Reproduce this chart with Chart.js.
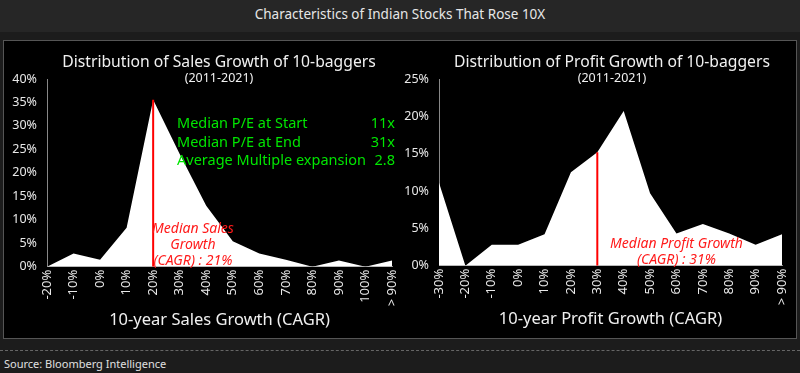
<!DOCTYPE html>
<html>
<head>
<meta charset="utf-8">
<script src="https://cdn.jsdelivr.net/npm/chart.js@4"></script>
<style>
    html, body { margin: 0; padding: 0; }
    body {
        width: 800px;
        height: 373px;
        background: #1c1c1c;
        position: relative;
        overflow: hidden;
        font-family: "Noto Sans", sans-serif;
    }
    .header {
        position: absolute; left: 0; top: 0; width: 800px; height: 32px;
        background: #262626; color: #e6e6e6; font-size: 13.5px;
        text-align: center; line-height: 28px;
    }
    .panel {
        position: absolute; left: 3px; top: 40px; width: 792px; height: 297px;
        background: #000; border: 1px solid #555;
    }
    .source-line {
        position: absolute; left: 0; top: 350px; width: 800px;
        border-top: 1px dashed #666;
    }
    .source {
        position: absolute; left: 4px; top: 356px; font-size: 11px; color: #e0e0e0;
    }
    canvas { position: absolute; }
    #salesChart { left: 4px; top: 41px; }
    #profitChart { left: 400px; top: 41px; }
</style>
</head>
<body>
<div class="header">Characteristics of Indian Stocks That Rose 10X</div>
<div class="panel"></div>
<canvas id="salesChart" width="395" height="296"></canvas>
<canvas id="profitChart" width="395" height="296"></canvas>
<div class="source-line"></div>
<div class="source">Source: Bloomberg Intelligence</div>

<script>
// Sales growth distribution (share of 10-baggers, %)
const salesLabels = ['-20%', '-10%', '0%', '10%', '20%', '30%', '40%', '50%', '60%', '70%', '80%', '90%', '100%', '> 90%'];
const salesValues = [0, 2.8, 1.5, 8.3, 35.6, 24, 13, 5.4, 2.8, 1.5, 0, 1.3, 0, 1.3];
const salesTicks = [0, 5, 10, 15, 20, 25, 30, 35, 40];
const salesMedianLabel = '20%';

// Profit growth distribution (share of 10-baggers, %)
const profitLabels = ['-30%', '-20%', '-10%', '0%', '10%', '20%', '30%', '40%', '50%', '60%', '70%', '80%', '90%', '> 90%'];
const profitValues = [11.1, 0, 2.8, 2.8, 4.2, 12.5, 15.2, 20.7, 9.7, 4.3, 5.6, 4.3, 2.8, 4.2];
const profitTicks = [0, 5, 10, 15, 20, 25];
const profitMedianLabel = '30%';

const valuationRows = [
    ['Median P/E at Start', '11x'],
    ['Median P/E at End', '31x'],
    ['Average Multiple expansion', '2.8']
];

const FONT = '"Noto Sans", sans-serif';

// Draws titles and the text notes on top of the chart
const textPlugin = {
    id: 'texts',
    afterDraw(chart, args, opts) {
        const ctx = chart.ctx;
        const xs = chart.scales.x;
        const ys = chart.scales.y;
        ctx.save();
        ctx.textBaseline = 'middle';
        ctx.textAlign = 'center';
        ctx.fillStyle = '#f0f0f0';
        ctx.font = '15.7px ' + FONT;
        ctx.fillText(opts.title, opts.titleX, 22);
        ctx.font = '12.5px ' + FONT;
        ctx.fillText('(2011-2021)', opts.titleX, 37);

        // median note in red italics
        ctx.fillStyle = '#ff1a1a';
        ctx.font = 'italic 14px ' + FONT;
        const nx = xs.getPixelForValue(opts.noteIndex);
        opts.note.forEach((line, i) => {
            ctx.fillText(line, nx, ys.getPixelForValue(0) - 6 - (opts.note.length - 1 - i) * 16);
        });

        if (opts.rows) {
            ctx.fillStyle = '#00e600';
            ctx.font = '14.5px ' + FONT;
            opts.rows.forEach((row, i) => {
                const y = 83 + i * 18.5;
                ctx.textAlign = 'left';
                ctx.fillText(row[0], 173, y);
                ctx.textAlign = 'right';
                ctx.fillText(row[1], 391, y);
            });
        }
        ctx.restore();
    }
};

function makeChart(id, labels, values, ticks, medianLabel, medianValue, axisTitle, yWidth, padRight, padBottom, texts) {
    const yMax = ticks[ticks.length - 1];
    return new Chart(document.getElementById(id), {
        type: 'line',
        data: {
            labels: labels,
            datasets: [{
                data: values,
                fill: 'origin',
                backgroundColor: '#ffffff',
                borderColor: '#ffffff',
                borderWidth: 0,
                pointRadius: 0,
                tension: 0,
                order: 2
            }, {
                data: [{ x: medianLabel, y: 0 }, { x: medianLabel, y: medianValue }],
                borderColor: '#ff0000',
                borderWidth: 2,
                pointRadius: 0,
                fill: false,
                order: 1
            }]
        },
        options: {
            responsive: false,
            animation: false,
            layout: { padding: { top: 38, right: padRight, left: 0, bottom: padBottom } },
            plugins: {
                legend: { display: false },
                tooltip: { enabled: false },
                texts: texts
            },
            scales: {
                x: {
                    offset: false,
                    afterFit(scale) { scale.paddingRight = 0; scale.paddingLeft = 0; },
                    grid: { display: false, drawTicks: false },
                    border: { color: '#888', width: 1 },
                    ticks: {
                        color: '#e8e8e8',
                        font: { family: FONT, size: 13 },
                        minRotation: 90,
                        maxRotation: 90,
                        padding: 3,
                        autoSkip: false
                    },
                    title: {
                        display: true,
                        text: axisTitle,
                        color: '#f0f0f0',
                        font: { family: FONT, size: 16.5 },
                        padding: { top: 1, bottom: 7 }
                    }
                },
                y: {
                    min: 0,
                    max: yMax,
                    afterFit(scale) { scale.width = yWidth; },
                    afterBuildTicks(scale) { scale.ticks = ticks.map(v => ({ value: v })); },
                    grid: { display: false, drawTicks: false },
                    border: { color: '#888', width: 1 },
                    ticks: {
                        color: '#e8e8e8',
                        font: { family: FONT, size: 12.5 },
                        padding: 10,
                        callback: v => v + '%'
                    }
                }
            }
        },
        plugins: [textPlugin]
    });
}

makeChart('salesChart', salesLabels, salesValues, salesTicks, salesMedianLabel, salesValues[4],
    '10-year Sales Growth (CAGR)', 43, 7, 0, {
        title: 'Distribution of Sales Growth of 10-baggers',
        titleX: 215,
        note: ['Median Sales', 'Growth', '(CAGR) : 21%'],
        noteIndex: 5.5,
        rows: valuationRows
    });

makeChart('profitChart', profitLabels, profitValues, profitTicks, profitMedianLabel, profitValues[6],
    '10-year Profit Growth (CAGR)', 39, 13, 1, {
        title: 'Distribution of Profit Growth of 10-baggers',
        titleX: 212,
        note: ['Median Profit Growth', '(CAGR) : 31%'],
        noteIndex: 9,
        rows: null
    });
</script>
</body>
</html>
